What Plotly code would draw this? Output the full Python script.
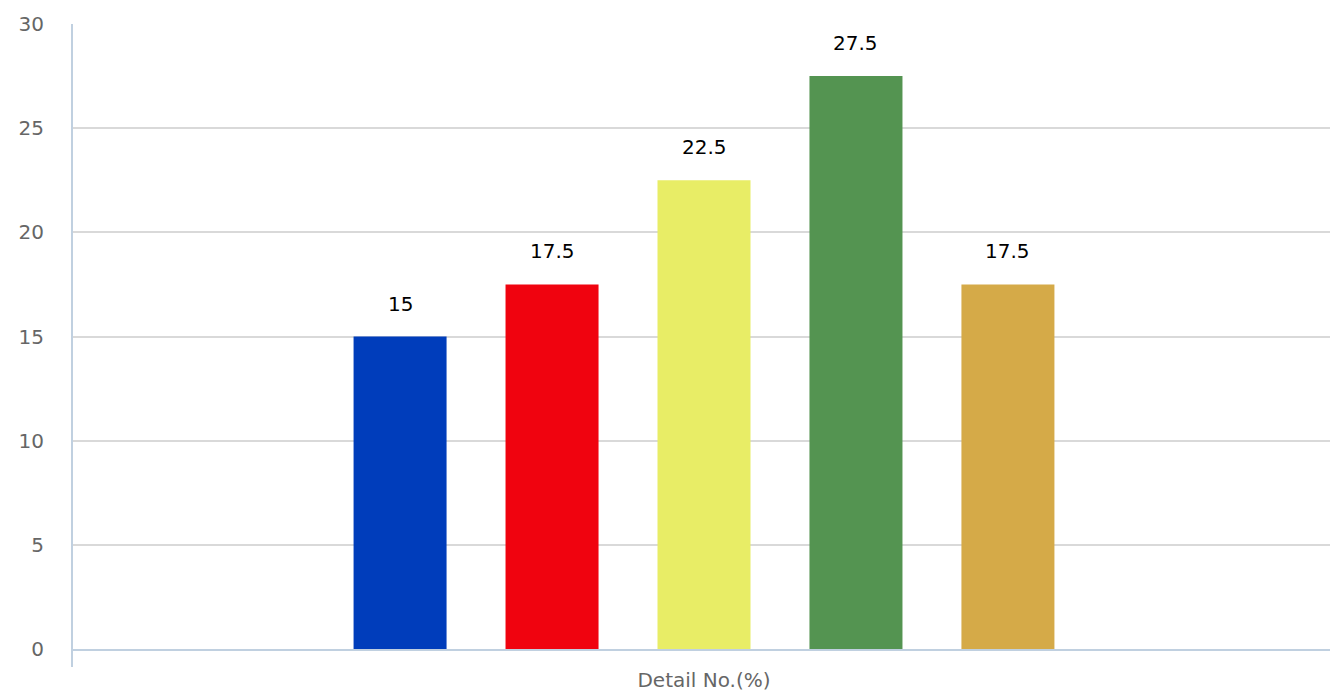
import plotly.graph_objects as go

category = ["Detail No.(%)"]
series_names = ["S1", "S2", "S3", "S4", "S5"]
values = [15, 17.5, 22.5, 27.5, 17.5]
colors = ["#003DBB", "#F0030F", "#E8ED66", "#549451", "#D5AA48"]
y_ticks = [0, 5, 10, 15, 20, 25, 30]

W, H = 1330, 693
ML, MR, MT, MB = 72, 0, 24, 44
BARGAP = 0.396
n = len(values)
plot_w = W - ML - MR
slot_px = (1 - BARGAP) / n * plot_w
x_shift = 3 / plot_w

fig = go.Figure()
for i, (name, v, c) in enumerate(zip(series_names, values, colors)):
    fig.add_trace(go.Bar(
        x=category, y=[v], name=name, marker=dict(color=c, line=dict(width=0)),
        hoverinfo="skip",
    ))
    fig.add_annotation(
        x=category[0], y=v, text=f"{v:g}", showarrow=False,
        xanchor="center", yanchor="bottom",
        xshift=(i - (n - 1) / 2) * slot_px, yshift=19,
        font=dict(family="DejaVu Sans", size=20, color="#000000"),
    )

fig.update_layout(
    width=W, height=H,
    margin=dict(l=ML, r=MR, t=MT, b=MB),
    paper_bgcolor="white", plot_bgcolor="white",
    showlegend=False,
    barmode="group", bargap=BARGAP, bargroupgap=0.388,
    font=dict(family="DejaVu Sans", size=20, color="#666666"),
)
fig.update_yaxes(
    range=[0, 30], tickvals=y_ticks, showgrid=True, gridcolor="#d9d9d9", gridwidth=1.5,
    zeroline=False, showline=False, ticks="", ticklabelstandoff=27,
    tickfont=dict(size=20, color="#666666"), automargin=False,
)
fig.update_xaxes(
    range=[-0.5 - x_shift, 0.5 - x_shift],
    showline=True, linecolor="#c0d0e0", linewidth=2, ticks="",
    ticklabelstandoff=12, tickfont=dict(size=20, color="#666666"), automargin=False,
)
fig.add_shape(type="line", xref="paper", yref="paper", x0=0, x1=0, y0=-18/625, y1=1,
              line=dict(color="#c0d0e0", width=2), layer="above")

post = ("document.body.style.margin='0';"
        "Plotly.relayout(document.getElementById('{plot_id}'),{width:%d,height:%d});" % (W, H))
fig.write_html("out.html", post_script=post, config={"displayModeBar": False})
